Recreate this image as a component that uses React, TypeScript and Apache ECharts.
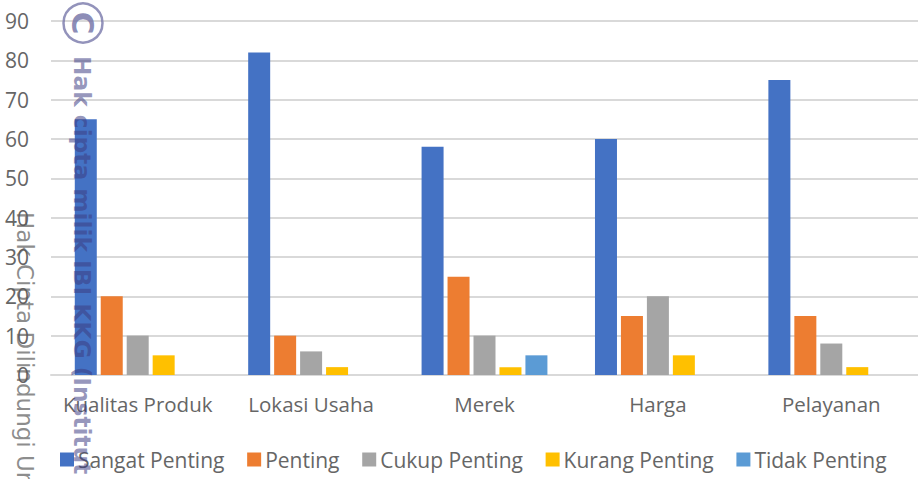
import React, { useEffect, useRef } from "react";
import * as echarts from "echarts";

const categories = ["Kualitas Produk", "Lokasi Usaha", "Merek", "Harga", "Pelayanan"];
const sangatPenting = [65, 82, 58, 60, 75];
const penting = [20, 10, 25, 15, 15];
const cukupPenting = [10, 6, 10, 20, 8];
const kurangPenting = [5, 2, 2, 5, 2];
const tidakPenting = [0, 0, 5, 0, 0];
const yTicks = { min: 0, max: 90, interval: 10 };
const seriesDefs: [string, number[], string][] = [
  ["Sangat Penting", sangatPenting, "#4472C4"],
  ["Penting", penting, "#ED7D31"],
  ["Cukup Penting", cukupPenting, "#A5A5A5"],
  ["Kurang Penting", kurangPenting, "#FFC000"],
  ["Tidak Penting", tidakPenting, "#5B9BD5"],
];
const watermarkMain = "Hak cipta milik IBI KKG (Institut";
const watermarkSide = "Hak Cipta Dilindungi Ur";

const FONT = "'Open Sans', 'Noto Sans', sans-serif";

export default function App() {
  const ref = useRef<HTMLDivElement>(null);
  useEffect(() => {
    document.body.style.margin = "0";
    const chart = echarts.init(ref.current!, undefined, { renderer: "svg" });
    chart.setOption({
      animation: false,
      backgroundColor: "#fff",
      grid: { left: 51, right: 0, top: 21, bottom: 104, containLabel: false },
      xAxis: {
        type: "category",
        data: categories,
        axisTick: { show: false },
        axisLine: { lineStyle: { color: "#D9D9D9", width: 2 } },
        axisLabel: { color: "#666", fontSize: 20.5, fontFamily: FONT, margin: 18, interval: 0, hideOverlap: false },
      },
      yAxis: {
        type: "value",
        ...yTicks,
        axisLine: { show: false },
        axisTick: { show: false },
        axisLabel: { color: "#666", fontSize: 21, fontFamily: FONT, margin: 22 },
        splitLine: { lineStyle: { color: "#D9D9D9", width: 2 } },
      },
      legend: {
        left: 55,
        top: 444,
        itemWidth: 14,
        itemHeight: 14,
        itemGap: 22.7,
        icon: "rect",
        textStyle: { color: "#666", fontSize: 21, fontFamily: FONT, padding: [0, 0, 0, -1] },
        data: seriesDefs.map((s) => s[0]),
      },
      series: seriesDefs.map(([name, data, color]) => ({
        name,
        type: "bar",
        data,
        barWidth: 22,
        barGap: "18%",
        itemStyle: { color },
      })),
      graphic: [
        {
          type: "circle",
          shape: { cx: 83, cy: 23, r: 19.5 },
          style: { fill: "transparent", stroke: "rgba(120,120,170,0.8)", lineWidth: 2.5 },
          z: 10,
        },
        {
          type: "text",
          x: 83,
          y: 23,
          rotation: -Math.PI / 2,
          style: { text: "C", fill: "rgba(120,120,170,0.85)", font: `bold 31px 'DejaVu Sans'`, align: "center", verticalAlign: "middle" },
          z: 10,
        },
        {
          type: "text",
          x: 82,
          y: 56,
          rotation: -Math.PI / 2,
          style: { text: watermarkMain, fill: "rgba(60,60,130,0.55)", font: `bold 23.3px 'DejaVu Sans'`, align: "left", verticalAlign: "middle" },
          z: 10,
        },
        {
          type: "text",
          x: 25,
          y: 212,
          rotation: -Math.PI / 2,
          style: { text: watermarkSide, fill: "rgba(90,90,90,0.7)", font: `23px 'DejaVu Sans'`, align: "left", verticalAlign: "middle" },
          z: 10,
        },
      ],
    });
    return () => chart.dispose();
  }, []);
  return <div ref={ref} style={{ width: 918, height: 479 }} />;
}
